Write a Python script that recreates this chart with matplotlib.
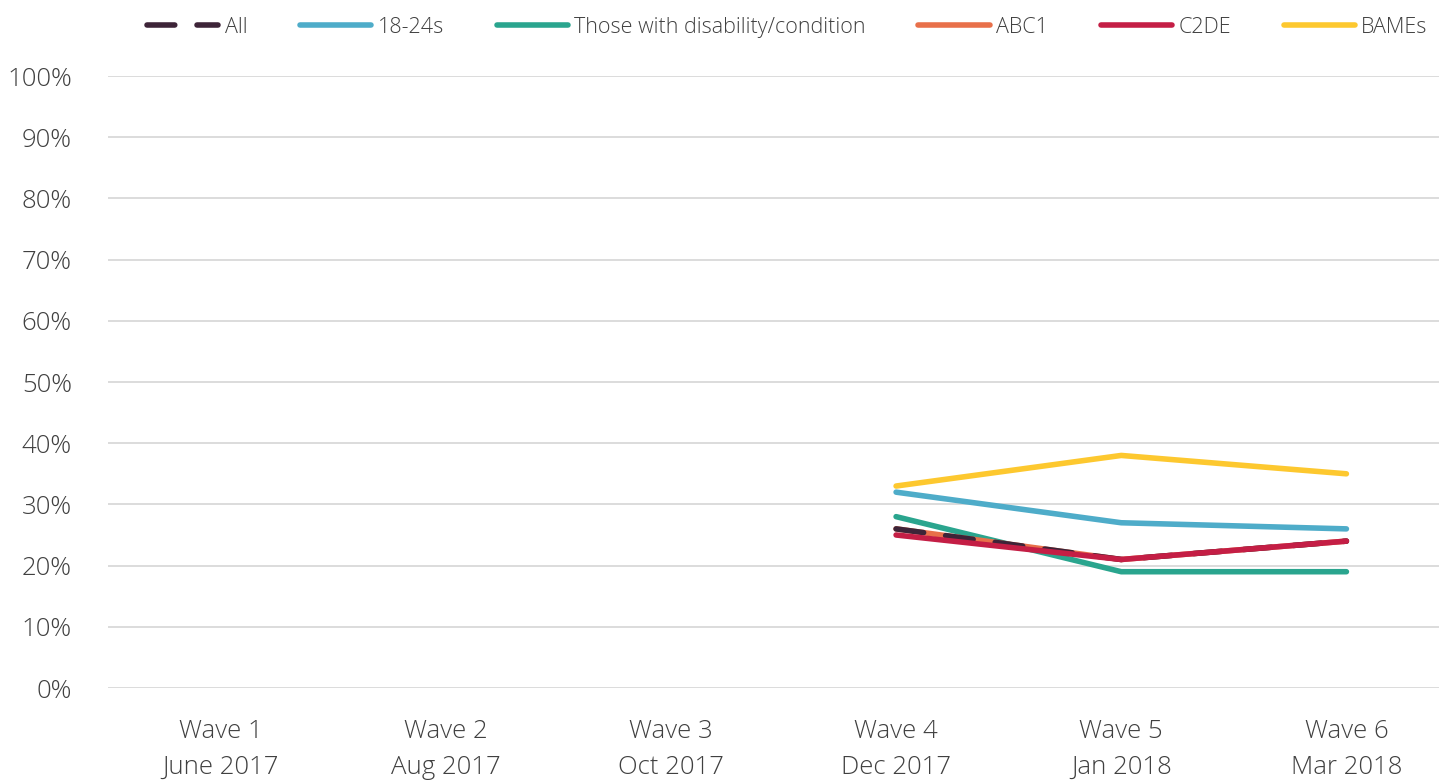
import matplotlib
matplotlib.use('Agg')
import matplotlib.pyplot as plt
from matplotlib.ticker import PercentFormatter

plt.rcParams['font.family'] = ['Open Sans', 'DejaVu Sans']
plt.rcParams['font.weight'] = 'light'

waves = ['Wave 1\nJune 2017', 'Wave 2\nAug 2017', 'Wave 3\nOct 2017',
         'Wave 4\nDec 2017', 'Wave 5\nJan 2018', 'Wave 6\nMar 2018']
x_data = [3, 4, 5]  # only waves 4-6 have values
all_vals = [26, 21, 24]
age_18_24 = [32, 27, 26]
disability = [28, 19, 19]
abc1 = [26, 21, 24]
c2de = [25, 21, 24]
bame = [33, 38, 35]

fig = plt.figure(figsize=(14.39, 7.82), dpi=100)
ax = fig.add_axes([108 / 1439, 1 - 688 / 782, (1459 - 108) / 1439, (688 - 76) / 782])

lw = 4
ax.plot(x_data, all_vals, color='#3d2438', lw=lw, ls=(0, (5, 4)), solid_capstyle='round',
        dash_capstyle='round', label='All', zorder=3)
ax.plot(x_data, age_18_24, color='#4eacc9', lw=lw, solid_capstyle='round', label='18-24s', zorder=2)
ax.plot(x_data, disability, color='#2aa58e', lw=lw, solid_capstyle='round',
        label='Those with disability/condition', zorder=2)
ax.plot(x_data, abc1, color='#e8704a', lw=lw, solid_capstyle='round', label='ABC1', zorder=2)
ax.plot(x_data, c2de, color='#c41e45', lw=lw, solid_capstyle='round', label='C2DE', zorder=4)
ax.plot(x_data, bame, color='#fdc82f', lw=lw, solid_capstyle='round', label='BAMEs', zorder=2)

ax.set_xlim(-0.5, 5.5)
ax.set_ylim(0, 100)
ax.set_yticks(range(0, 101, 10))
ax.yaxis.set_major_formatter(PercentFormatter(decimals=0))
ax.set_xticks(range(len(waves)))
ax.set_xticklabels(waves, fontsize=18.5, color='#404040', linespacing=1.6)
ax.tick_params(axis='y', labelsize=18.5, labelcolor='#404040', length=0, pad=26)
ax.tick_params(axis='x', length=0, pad=22)
ax.grid(axis='y', color='#d9d9d9', lw=1.3)
ax.set_axisbelow(True)
for s in ax.spines.values():
    s.set_visible(False)

handles, labels = ax.get_legend_handles_labels()
fig.legend(handles, labels, loc='upper left', bbox_to_anchor=(128 / 1439, 1.003), ncol=6,
           frameon=False, fontsize=15.5, labelcolor='#404040', handlelength=3.3,
           handletextpad=0.3, columnspacing=2.45)

fig.savefig('out.png', dpi=100)
